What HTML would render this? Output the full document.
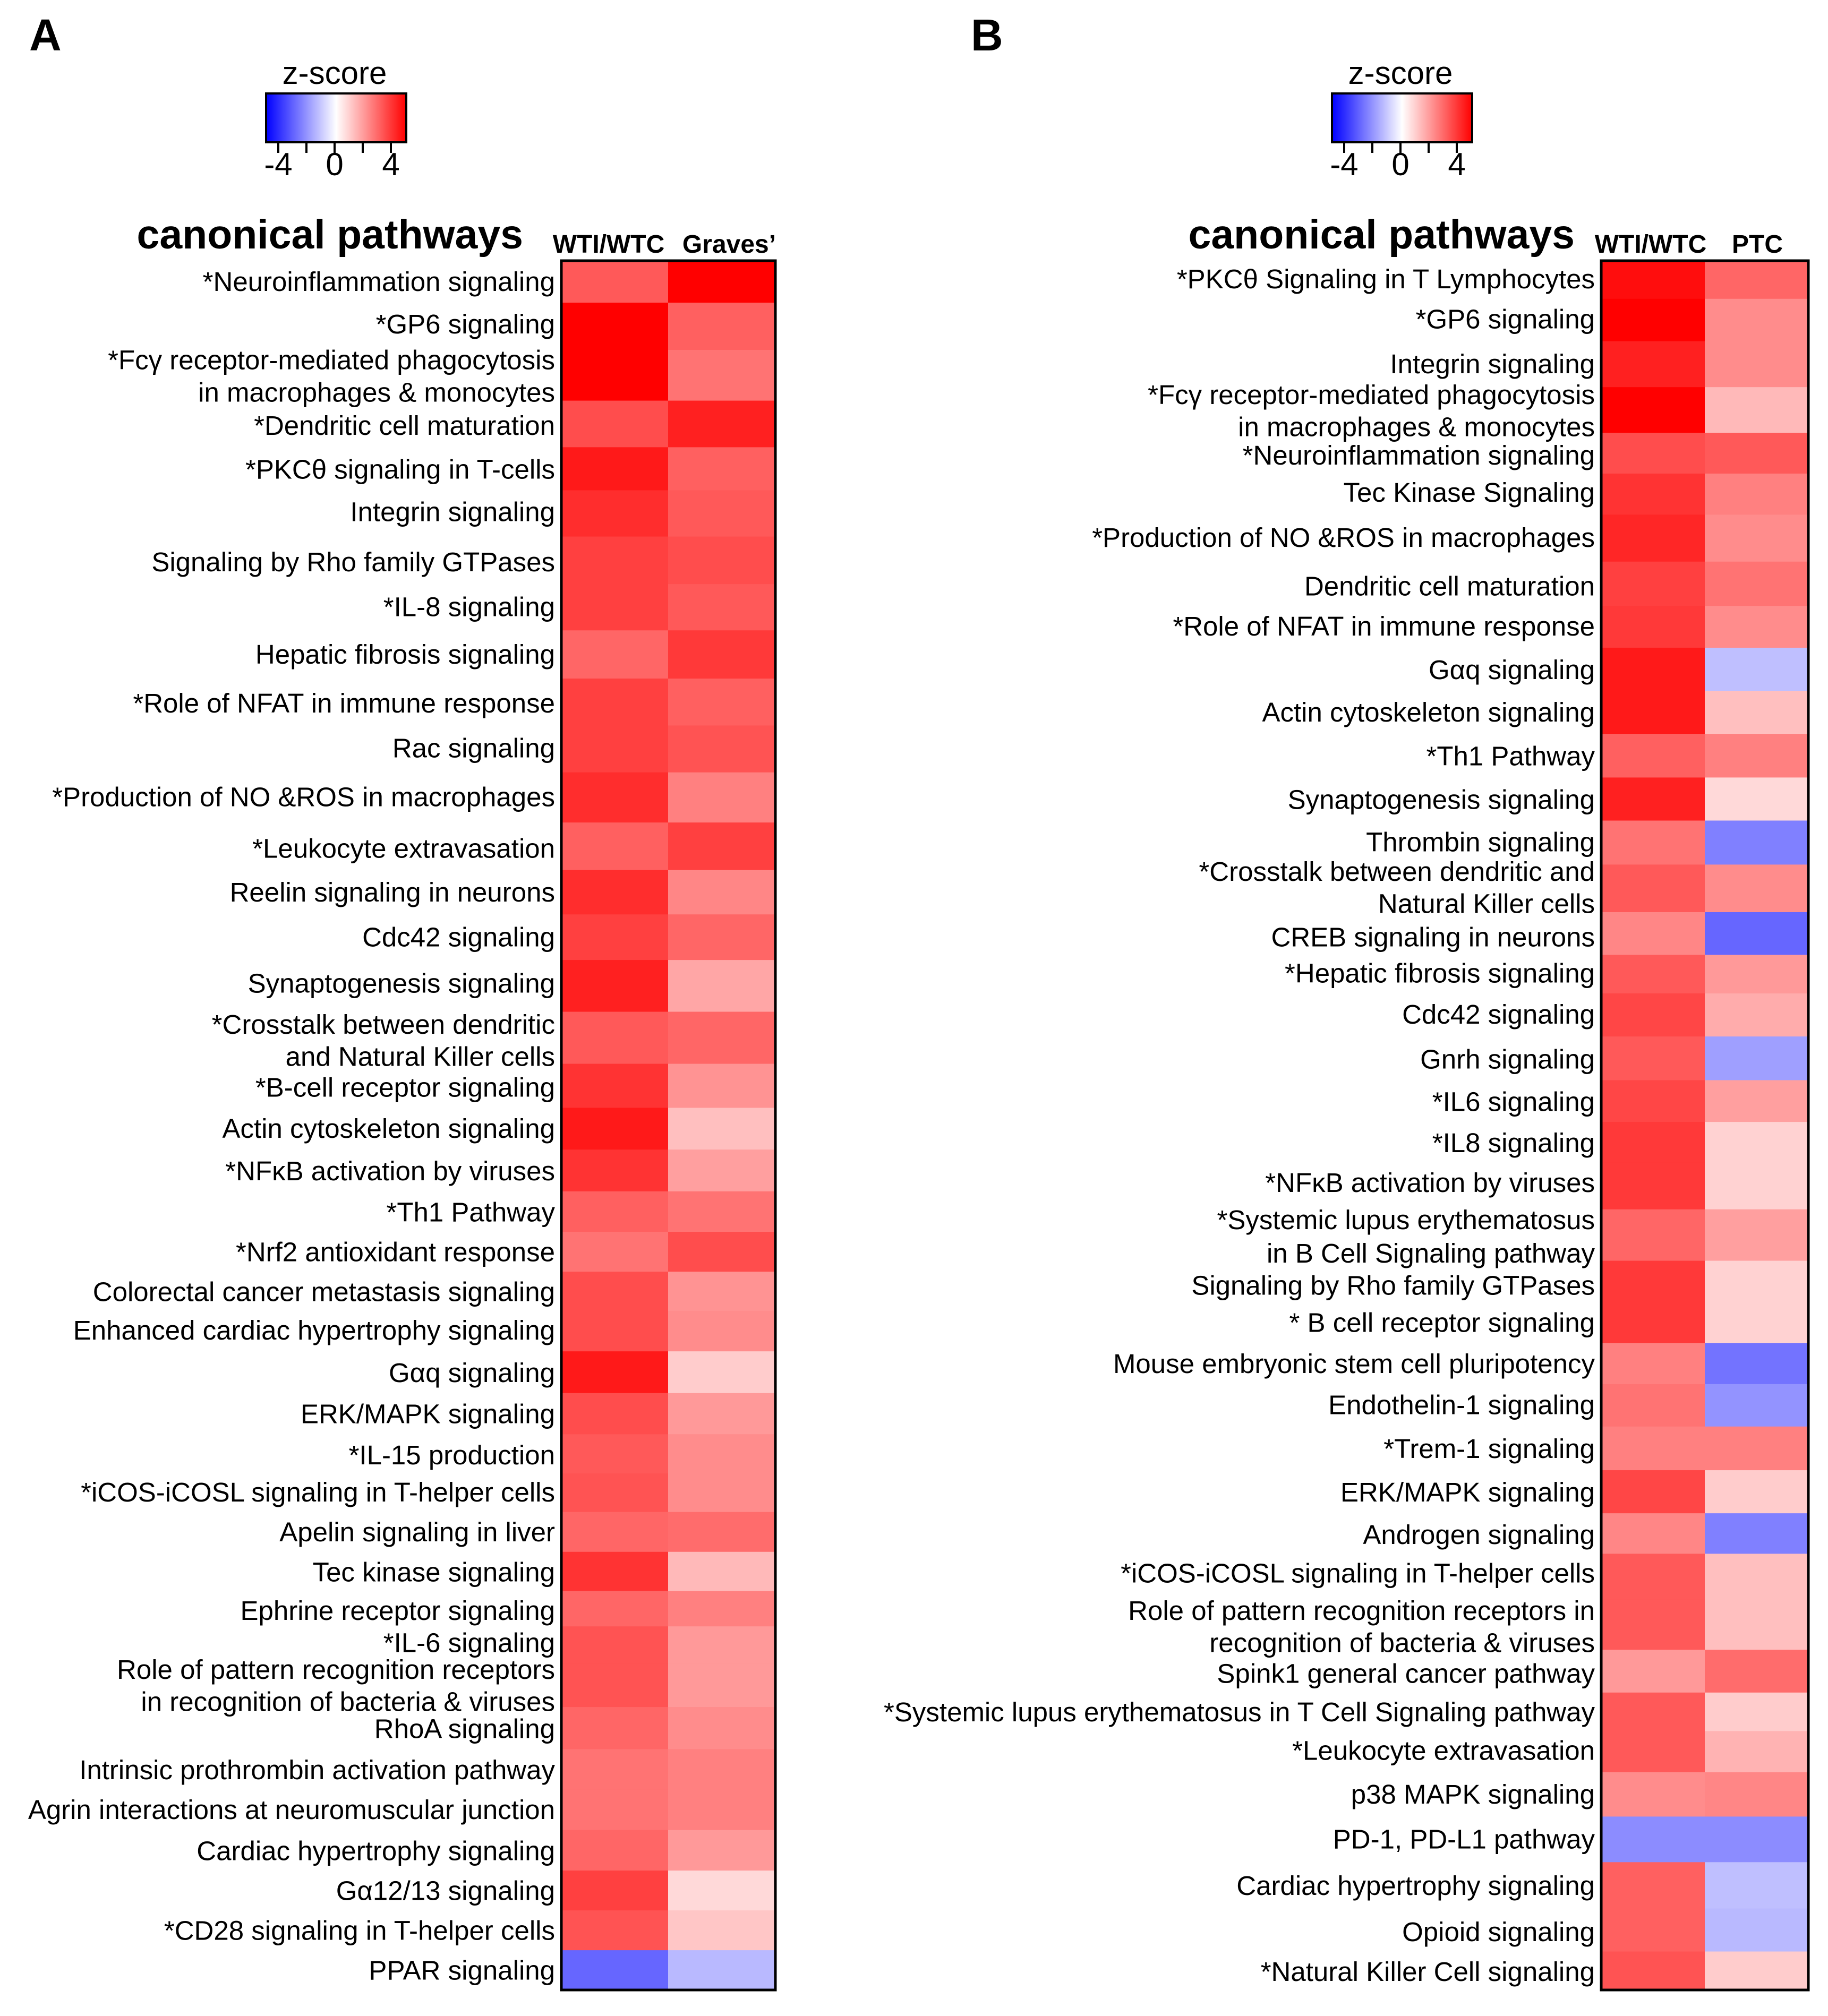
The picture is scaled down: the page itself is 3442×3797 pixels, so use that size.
<!DOCTYPE html>
<html><head><meta charset="utf-8"><style>
html,body{margin:0;padding:0;background:#fff}
svg{display:block}
text{font-family:"Liberation Sans",Arial,sans-serif;fill:#000}
</style></head><body>
<svg id="fig" width="3442" height="3797" viewBox="0 0 3442 3797" xmlns="http://www.w3.org/2000/svg">
<defs>
<linearGradient id="cmap" x1="0" x2="1" y1="0" y2="0">
<stop offset="0" stop-color="#0000ff"/><stop offset="0.5" stop-color="#ffffff"/><stop offset="1" stop-color="#ff0000"/>
</linearGradient>
</defs>
</svg>
<script>
// ---------- Panel A data ----------
const labelsA = ["*Neuroinflammation signaling","*GP6 signaling","*Fcγ receptor-mediated phagocytosis|in macrophages & monocytes","*Dendritic cell maturation","*PKCθ signaling in T-cells","Integrin signaling","Signaling by Rho family GTPases","*IL-8 signaling","Hepatic fibrosis signaling","*Role of NFAT in immune response","Rac signaling","*Production of NO &ROS in macrophages","*Leukocyte extravasation","Reelin signaling in neurons","Cdc42 signaling","Synaptogenesis signaling","*Crosstalk between dendritic|and Natural Killer cells","*B-cell receptor signaling","Actin cytoskeleton signaling","*NFκB activation by viruses","*Th1 Pathway","*Nrf2 antioxidant response","Colorectal cancer metastasis signaling","Enhanced cardiac hypertrophy signaling","Gαq signaling","ERK/MAPK signaling","*IL-15 production","*iCOS-iCOSL signaling in T-helper cells","Apelin signaling in liver","Tec kinase signaling","Ephrine receptor signaling","*IL-6 signaling","Role of pattern recognition receptors|in recognition of bacteria & viruses","RhoA signaling","Intrinsic prothrombin activation pathway","Agrin interactions at neuromuscular junction","Cardiac hypertrophy signaling","Gα12/13 signaling","*CD28 signaling in T-helper cells","PPAR signaling"];
const wtiA = [2.6,4,4,2.8,3.6,3.3,3.0,3.0,2.4,3.0,3.0,3.3,2.5,3.3,3.0,3.5,2.6,3.2,3.6,3.2,2.5,2.2,2.8,2.8,3.6,2.8,2.6,2.7,2.4,3.2,2.4,2.7,2.7,2.4,2.2,2.2,2.4,3.0,2.7,-2.4];
const gravesA = [4,2.5,2.2,3.5,2.5,2.6,2.8,2.6,3.1,2.5,2.7,2.0,3.0,1.9,2.4,1.4,2.4,1.7,1.0,1.5,2.2,2.8,1.7,1.8,0.8,1.6,1.8,1.8,2.3,1.1,2.0,1.6,1.6,1.8,2.0,2.0,1.6,0.6,0.9,-1.1];
const labelYA = [219,252,[280,305],331,365,398,437,472,509,547,582,620,660,694,729,765,[797,822],846,878,911,943,974,1005,1035,1068,1100,1132,1161,1192,1223,1253,1278,[1299,1324],1345,1377,1408,1440,1471,1502,1533];
// ---------- Panel B data ----------
const labelsB = ["*PKCθ Signaling in T Lymphocytes","*GP6 signaling","Integrin signaling","*Fcγ receptor-mediated phagocytosis|in macrophages & monocytes","*Neuroinflammation signaling","Tec Kinase Signaling","*Production of NO &ROS in macrophages","Dendritic cell maturation","*Role of NFAT in immune response","Gαq signaling","Actin cytoskeleton signaling","*Th1 Pathway","Synaptogenesis signaling","Thrombin signaling","*Crosstalk between dendritic and|Natural Killer cells","CREB signaling in neurons","*Hepatic fibrosis signaling","Cdc42 signaling","Gnrh signaling","*IL6 signaling","*IL8 signaling","*NFκB activation by viruses","*Systemic lupus erythematosus|in B Cell Signaling pathway","Signaling by Rho family GTPases","* B cell receptor signaling","Mouse embryonic stem cell pluripotency","Endothelin-1 signaling","*Trem-1 signaling","ERK/MAPK signaling","Androgen signaling","*iCOS-iCOSL signaling in T-helper cells","Role of pattern recognition receptors in|recognition of bacteria & viruses","Spink1 general cancer pathway","*Systemic lupus erythematosus  in T Cell Signaling pathway","*Leukocyte extravasation","p38 MAPK signaling","PD-1, PD-L1 pathway","Cardiac hypertrophy signaling","Opioid signaling","*Natural Killer Cell  signaling"];
const wtiB = [3.8,4,3.5,4,2.8,3.2,3.4,3.0,3.1,3.6,3.6,2.5,3.5,2.2,2.6,1.9,2.6,2.9,2.6,2.9,3.1,3.1,2.4,3.1,3.1,2.0,2.2,2.0,2.9,1.9,2.6,2.6,1.6,2.6,2.6,1.8,-1.8,2.5,2.5,2.7];
const ptcB = [2.4,1.8,1.8,1.1,2.6,2.0,1.8,2.2,1.8,-1.0,1.0,2.0,0.6,-2.0,1.8,-2.4,1.6,1.3,-1.5,1.5,0.7,0.7,1.5,0.7,0.7,-2.2,-1.7,2.0,0.8,-2.0,1.0,1.0,2.3,0.8,1.2,1.9,-1.8,-1.0,-1.1,0.8];
const labelYB = [217,248,283,[307,332],354,383,418,456,487,521,554,588,622,655,[678,703],729,757,789,824,857,889,920,[949,975],1000,1029,1061,1093,1127,1161,1194,1224,[1253,1278],1302,1332,1362,1396,1431,1467,1503,1534];
const tickVals = [-4,0,4];

const NS = "http://www.w3.org/2000/svg";
const svg = document.getElementById('fig');
const S = 2.4205;
function el(tag, attrs, parent){ const e=document.createElementNS(NS,tag); for(const k in attrs) e.setAttribute(k,attrs[k]); (parent||svg).appendChild(e); return e; }
function color(v){
  const t=Math.max(-1,Math.min(1,v/4));
  if(t>=0){const c=Math.round(255*(1-t));return `rgb(255,${c},${c})`;}
  const c=Math.round(255*(1+t));return `rgb(${c},${c},255)`;
}
function panel(cfg){
  const g=el('g',{});
  
  
  const L=el('text',{x:cfg.letterX,y:95,'font-size':84,'font-weight':'bold'},g); L.textContent=cfg.letter;
  
  
  const cb=el('g',{},g);
  
  
  const cbx=cfg.cbx, cbw=264, cby=176, cbh=92;
  const ct=el('text',{x:cbx+129,y:158,'font-size':60,'text-anchor':'middle'},cb); ct.textContent='z-score';
  
  
  el('rect',{x:cbx,y:cby,width:cbw,height:cbh,fill:'url(#cmap)',stroke:'#000','stroke-width':4},cb);
  const scale=v=>cbx+129+v*26.5;
  [-4,-2,0,2,4].forEach(v=>el('line',{x1:scale(v),x2:scale(v),y1:cby+cbh,y2:cby+cbh+20,stroke:'#000','stroke-width':4},cb));
  tickVals.forEach(v=>{const t=el('text',{x:scale(v),y:330,'font-size':60,'text-anchor':'middle'},cb);t.textContent=String(v);
    
    });
  const tt=el('text',{x:cfg.titleX,y:468,'font-size':77,'font-weight':'bold','text-anchor':'end'},g); tt.textContent='canonical pathways';
  
  
  cfg.headers.forEach((h,i)=>{const t=el('text',{x:cfg.headerX[i],y:476,'font-size':48,'font-weight':'bold','text-anchor':'middle'},g);t.textContent=h;
    
    });
  // row boundaries follow label centres
  const top=491,bottom=3748,n=cfg.labels.length;
  const centers=cfg.ly.map(y=>(Array.isArray(y)?(y[0]+y[1])/2:y)*S);
  const bounds=[top];
  for(let i=0;i<n-1;i++) bounds.push((centers[i]+centers[i+1])/2);
  bounds.push(bottom);
  const cols=[cfg.left,cfg.mid,cfg.right];
  cfg.series.forEach((ser,ci)=>{
    ser.forEach((v,ri)=>{
      const r=el('rect',{x:cols[ci],y:bounds[ri],width:cols[ci+1]-cols[ci]+0.5,height:bounds[ri+1]-bounds[ri]+0.5,fill:color(v)},g);
      
      
    });
  });
  const fr=el('rect',{x:cfg.left,y:top,width:cfg.right-cfg.left,height:bottom-top,fill:'none',stroke:'#000','stroke-width':5},g);
  
  
  cfg.labels.forEach((lab,i)=>{
    const parts=lab.split('|'); const ys=Array.isArray(cfg.ly[i])?cfg.ly[i]:[cfg.ly[i]];
    parts.forEach((p,j)=>{
      const t=el('text',{x:cfg.labelX,y:ys[j]*S+18,'font-size':51,'text-anchor':'end'},g);
      t.textContent=p;
      
      
    });
  });
}
panel({name:'panel-a',letter:'A',letterX:55,cbx:501,titleX:985,headers:["WTI/WTC","Graves’"],headerX:[1146,1373],
  left:1057,mid:1258,right:1460,series:[wtiA,gravesA],labels:labelsA,ly:labelYA,labelX:1045});
panel({name:'panel-b',letter:'B',letterX:1828,cbx:2508,titleX:2965,headers:["WTI/WTC","PTC"],headerX:[3108,3309],
  left:3015,mid:3210,right:3405,series:[wtiB,ptcB],labels:labelsB,ly:labelYB,labelX:3003});
</script>
</body></html>
